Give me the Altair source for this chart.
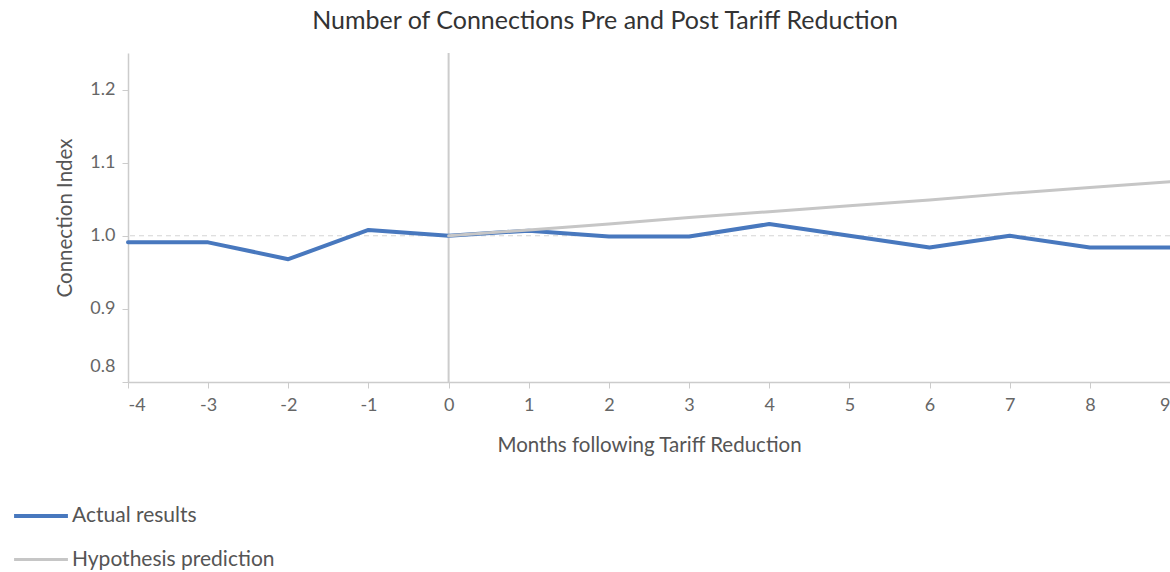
import altair as alt
import pandas as pd

# Months relative to the tariff reduction
months = [-4, -3, -2, -1, 0, 1, 2, 3, 4, 5, 6, 7, 8, 9]
# Observed connection index
actual = [0.991, 0.991, 0.968, 1.008, 1.000, 1.007, 0.999, 0.999, 1.016, 1.000, 0.984, 1.000, 0.984, 0.984]
# Predicted connection index after the reduction
hyp_months = [0, 1, 2, 3, 4, 5, 6, 7, 8, 9]
hypothesis = [1.000, 1.008, 1.016, 1.025, 1.033, 1.041, 1.049, 1.058, 1.066, 1.074]

series_names = ["Actual results", "Hypothesis prediction"]
series_colors = ["#4878BE", "#C6C6C6"]
series_widths = [4, 3]

rows = [{"month": m, "value": v, "series": series_names[0]} for m, v in zip(months, actual)]
rows += [{"month": m, "value": v, "series": series_names[1]} for m, v in zip(hyp_months, hypothesis)]
df = pd.DataFrame(rows)

FONT = "Lato"

x_scale = alt.Scale(domain=[-4, 9], nice=False, zero=False)
y_scale = alt.Scale(domain=[0.8, 1.25], nice=False, zero=False)

legend = alt.Legend(
    title=None,
    orient="none",
    legendX=-116,
    legendY=434,
    symbolType="stroke",
    symbolSize=2900,
    labelOffset=2,
    rowPadding=5,
    labelFontSize=21,
    labelLimit=400,
    labelColor="#555555",
    labelFont=FONT,
)

base_line = alt.Chart(pd.DataFrame({"y": [1.0]})).mark_rule(
    color="#D4D4D4", strokeDash=[5, 4], strokeWidth=1
).encode(y=alt.Y("y:Q", scale=y_scale))

zero_line = alt.Chart(pd.DataFrame({"x": [0]})).mark_rule(
    color="#CCCCCC", strokeWidth=2
).encode(x=alt.X("x:Q", scale=x_scale))

lines = alt.Chart(df).mark_line(strokeCap="round", strokeJoin="round").encode(
    x=alt.X(
        "month:Q",
        scale=x_scale,
        axis=alt.Axis(
            title="Months following Tariff Reduction",
            values=months,
            labelExpr="replace(format(datum.value, 'd'), '\u2212', '-')",
            grid=False,
            tickSize=6,
            labelPadding=8,
            titlePadding=21,
        ),
    ),
    y=alt.Y(
        "value:Q",
        scale=y_scale,
        axis=alt.Axis(
            title="Connection Index",
            values=[0.8, 0.9, 1.0, 1.1, 1.2],
            format=".1f",
            grid=False,
            tickSize=6,
            labelPadding=7,
            titlePadding=14,
            labelFlush=True,
            labelFlushOffset=-7,
        ),
    ),
    color=alt.Color(
        "series:N",
        scale=alt.Scale(domain=series_names, range=series_colors),
        legend=legend,
    ),
    strokeWidth=alt.StrokeWidth(
        "series:N",
        scale=alt.Scale(domain=series_names, range=series_widths),
        legend=legend,
    ),
)

chart = (
    alt.layer(base_line, zero_line, lines)
    .properties(
        width=1042,
        height=329,
        padding={"left": 128, "top": 53, "right": 0, "bottom": 190},
        autosize=alt.AutoSizeParams(type="none"),
        title=alt.TitleParams(
            "Number of Connections Pre and Post Tariff Reduction",
            fontSize=25,
            font=FONT,
            fontWeight="normal",
            color="#333333",
            offset=18,
            dx=-44,
        ),
    )
    .configure_view(stroke=None)
    .configure_axis(
        domainColor="#CCCCCC",
        tickColor="#CCCCCC",
        domainWidth=1.5,
        labelFont=FONT,
        titleFont=FONT,
        labelFontSize=18,
        titleFontSize=20.5,
        labelColor="#666666",
        titleColor="#555555",
        titleFontWeight="normal",
    )
)

chart.save("out.html", embed_options={"renderer": "svg", "actions": False})
